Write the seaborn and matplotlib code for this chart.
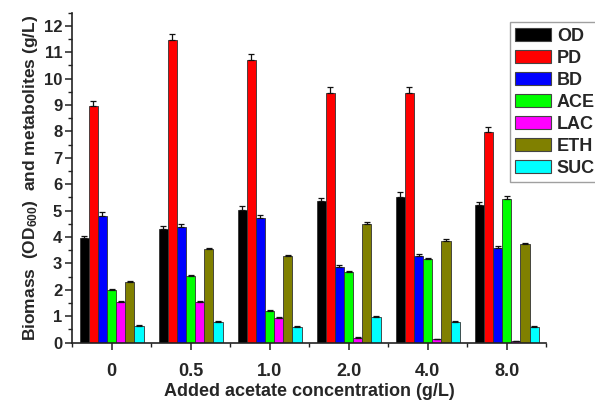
import numpy as np
import pandas as pd
import matplotlib
matplotlib.use("Agg")
import matplotlib.pyplot as plt
import seaborn as sns
from matplotlib.ticker import MultipleLocator

categories = ["0", "0.5", "1.0", "2.0", "4.0", "8.0"]
series = ["OD", "PD", "BD", "ACE", "LAC", "ETH", "SUC"]

OD  = [3.95, 4.30, 5.04, 5.37, 5.52, 5.21]
PD  = [8.95, 11.45, 10.70, 9.46, 9.44, 7.98]
BD  = [4.79, 4.36, 4.70, 2.87, 3.29, 3.57]
ACE = [1.99, 2.52, 1.20, 2.66, 3.16, 5.42]
LAC = [1.55, 1.55, 0.94, 0.18, 0.12, 0.05]
ETH = [2.28, 3.55, 3.28, 4.51, 3.86, 3.72]
SUC = [0.625, 0.79, 0.60, 0.98, 0.77, 0.60]

OD_err  = [0.08, 0.12, 0.14, 0.12, 0.18, 0.10]
PD_err  = [0.20, 0.22, 0.22, 0.22, 0.25, 0.19]
BD_err  = [0.15, 0.12, 0.12, 0.08, 0.08, 0.08]
ACE_err = [0.05, 0.05, 0.04, 0.05, 0.06, 0.12]
LAC_err = [0.04, 0.04, 0.03, 0.02, 0.02, 0.01]
ETH_err = [0.05, 0.05, 0.05, 0.06, 0.06, 0.06]
SUC_err = [0.03, 0.03, 0.03, 0.04, 0.03, 0.03]

values = [OD, PD, BD, ACE, LAC, ETH, SUC]
errors = [OD_err, PD_err, BD_err, ACE_err, LAC_err, ETH_err, SUC_err]
colors = ["#000000", "#FF0000", "#0000FF", "#00FF00", "#FF00FF", "#808000", "#00FFFF"]

rows = []
for s, vals in zip(series, values):
    for c, v in zip(categories, vals):
        rows.append({"conc": c, "series": s, "value": v})
df = pd.DataFrame(rows)

sns.set_theme(style="white")
plt.rcParams["font.family"] = ["Liberation Sans", "DejaVu Sans"]
plt.rcParams["font.weight"] = "bold"
plt.rcParams["mathtext.fontset"] = "custom"
plt.rcParams["mathtext.rm"] = "Liberation Sans:bold"
plt.rcParams["mathtext.bf"] = "Liberation Sans:bold"
plt.rcParams["mathtext.it"] = "Liberation Sans:bold"

fig = plt.figure(figsize=(5.95, 4.04), dpi=100)
ax = fig.add_axes([0.121, 0.152, 0.797, 0.817])

sns.barplot(data=df, x="conc", y="value", hue="series", order=categories,
            hue_order=series, palette=colors, width=0.81, gap=0,
            edgecolor="#333333", linewidth=0.6, errorbar=None, ax=ax,
            saturation=1)

for cont, errs in zip(ax.containers, errors):
    xs = [b.get_x() + b.get_width() / 2 for b in cont]
    hs = [b.get_height() for b in cont]
    ax.errorbar(xs, hs, yerr=[np.zeros(len(errs)), errs], fmt="none",
                ecolor="#111111", elinewidth=0.9, capsize=2.5, capthick=0.9)

ax.set_xlim(-0.5, 5.5)
ax.set_ylim(0, 12.5)
ax.yaxis.set_major_locator(MultipleLocator(1))
ax.yaxis.set_minor_locator(MultipleLocator(0.5))
ax.xaxis.set_minor_locator(MultipleLocator(0.5))

for sp in ["top", "right"]:
    ax.spines[sp].set_visible(False)
for sp in ["left", "bottom"]:
    ax.spines[sp].set_color("#222222")
    ax.spines[sp].set_linewidth(1.2)

ax.tick_params(axis="both", which="major", direction="out", length=5, width=1.1,
               color="#222222", left=True, bottom=True)
ax.tick_params(axis="both", which="minor", direction="out", length=3, width=1.0,
               color="#222222", left=True, bottom=True)
ax.tick_params(axis="x", which="major", pad=10, labelsize=13)
ax.tick_params(axis="y", which="major", pad=2, labelsize=12)
for lab in ax.get_xticklabels() + ax.get_yticklabels():
    lab.set_fontweight("bold")

ax.set_xlabel("Added acetate concentration (g/L)", fontsize=13, fontweight="bold", labelpad=2)
ax.set_ylabel("Biomass  (OD$_{600}$)  and metabolites (g/L)", fontsize=12.5,
              fontweight="bold", labelpad=3)

ax.legend_.remove()
handles = [plt.Rectangle((0, 0), 1, 1, facecolor=c, edgecolor="#444444", linewidth=0.8)
           for c in colors]
leg = fig.legend(handles, series, loc="upper left", bbox_to_anchor=(0.857, 0.945),
                 frameon=True, fancybox=False, edgecolor="#888888",
                 prop={"weight": "bold", "size": 13},
                 handlelength=2.0, handleheight=0.7, labelspacing=0.28,
                 handletextpad=0.3, borderpad=0.3, borderaxespad=0)
leg.get_frame().set_linewidth(1.0)

fig.savefig("out.png", dpi=100)
